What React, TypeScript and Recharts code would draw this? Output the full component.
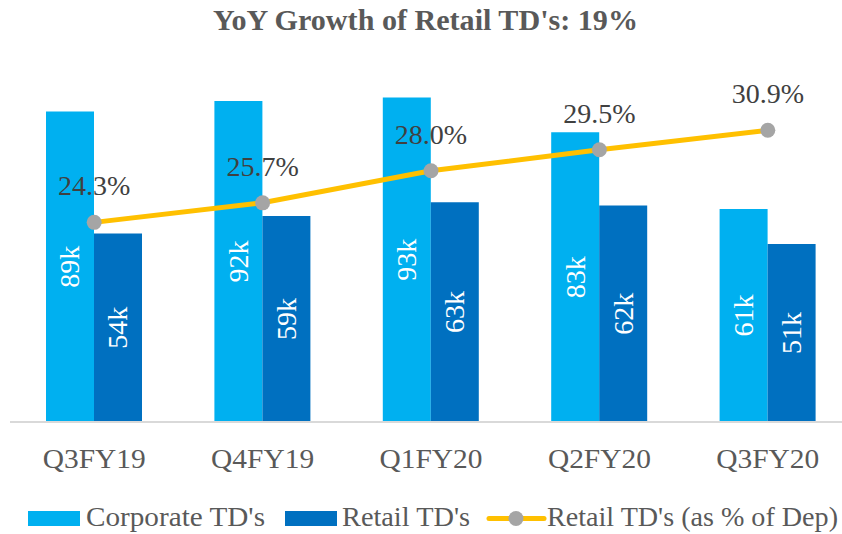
import React from 'react';
import { ComposedChart, Bar, Line, XAxis, YAxis, LabelList, Legend } from 'recharts';

const categories = ['Q3FY19', 'Q4FY19', 'Q1FY20', 'Q2FY20', 'Q3FY20'];
const corporateTDs = [89, 92, 93, 83, 61];
const retailTDs = [54, 59, 63, 62, 51];
const retailPctOfDep = [24.3, 25.7, 28.0, 29.5, 30.9];

const data = categories.map((c, i) => ({
  cat: c,
  corp: corporateTDs[i],
  retail: retailTDs[i],
  pct: retailPctOfDep[i],
}));

const FONT = '"Liberation Serif", "Times New Roman", serif';
const LIGHT = '#00B0F0';
const DARK = '#0070C0';
const GOLD = '#FFC000';
const GREY_DOT = '#A5A5A5';

const BarLabel = (props: any) => {
  const { x, y, width, height, value } = props;
  const cx = x + width / 2;
  const cy = y + height / 2;
  return (
    <text
      x={cx}
      y={cy}
      transform={`rotate(-90 ${cx} ${cy})`}
      textAnchor="middle"
      dominantBaseline="central"
      fill="#ffffff"
      fontFamily={FONT}
      fontSize={28}
    >
      {`${value}k`}
    </text>
  );
};

const LineLabel = (props: any) => {
  const { x, y, value } = props;
  return (
    <text x={x} y={y - 27} textAnchor="middle" fill="#404040" fontFamily={FONT} fontSize={28}>
      {`${Number(value).toFixed(1)}%`}
    </text>
  );
};

const Tick = (props: any) => {
  const { x, y, payload } = props;
  return (
    <text
      x={x}
      y={y + 46}
      textAnchor="middle"
      fill="#595959"
      fontFamily={FONT}
      fontSize={27}
      textLength={103}
      lengthAdjust="spacingAndGlyphs"
    >
      {payload.value}
    </text>
  );
};

const LegendContent = () => (
  <svg width={842} height={35} style={{ display: 'block', overflow: 'visible' }}>
    <rect x={28} y={12} width={52} height={15} fill={LIGHT} />
    <text x={86} y={26.5} fill="#595959" fontFamily={FONT} fontSize={27} textLength={179} lengthAdjust="spacingAndGlyphs">
      Corporate TD's
    </text>
    <rect x={285} y={12} width={52} height={15} fill={DARK} />
    <text x={342} y={26.5} fill="#595959" fontFamily={FONT} fontSize={27} textLength={128} lengthAdjust="spacingAndGlyphs">
      Retail TD's
    </text>
    <line x1={489} y1={19.5} x2={544} y2={19.5} stroke={GOLD} strokeWidth={5} strokeLinecap="round" />
    <circle cx={516} cy={19.5} r={7.5} fill={GREY_DOT} />
    <text x={547} y={26.5} fill="#595959" fontFamily={FONT} fontSize={27} textLength={291} lengthAdjust="spacingAndGlyphs">
      Retail TD's (as % of Dep)
    </text>
  </svg>
);

export default function App() {
  return (
    <div
      style={{
        position: 'fixed',
        left: 0,
        top: 0,
        width: 842,
        height: 534,
        overflow: 'hidden',
        background: '#ffffff',
      }}
    >
      <ComposedChart
        width={862}
        height={534}
        data={data}
        margin={{ top: 73, right: 10, left: 10, bottom: 0 }}
        barSize={48}
        barGap={0}
      >
        <XAxis
          dataKey="cat"
          height={77}
          tickLine={false}
          tickSize={0}
          tickMargin={0}
          axisLine={{ stroke: '#D9D9D9', strokeWidth: 2 }}
          tick={<Tick />}
          interval={0}
        />
        <YAxis yAxisId="left" hide domain={[0, 100]} />
        <YAxis yAxisId="right" orientation="right" hide domain={[10, 35]} />
        <Bar yAxisId="left" dataKey="corp" name="Corporate TD's" fill={LIGHT} isAnimationActive={false}>
          <LabelList dataKey="corp" content={<BarLabel />} />
        </Bar>
        <Bar yAxisId="left" dataKey="retail" name="Retail TD's" fill={DARK} isAnimationActive={false}>
          <LabelList dataKey="retail" content={<BarLabel />} />
        </Bar>
        <Line
          yAxisId="right"
          dataKey="pct"
          name="Retail TD's (as % of Dep)"
          type="linear"
          stroke={GOLD}
          strokeWidth={5}
          dot={{ r: 7.5, fill: GREY_DOT, stroke: 'none' }}
          activeDot={false}
          isAnimationActive={false}
        >
          <LabelList dataKey="pct" content={<LineLabel />} />
        </Line>
        <Legend
          verticalAlign="bottom"
          content={<LegendContent />}
          wrapperStyle={{ left: 0, width: 842, height: 35 }}
        />
      </ComposedChart>
      <svg
        width={842}
        height={60}
        style={{ position: 'absolute', left: 0, top: 0, pointerEvents: 'none' }}
      >
        <text
          x={425.5}
          y={30}
          textAnchor="middle"
          fill="#595959"
          fontFamily={FONT}
          fontWeight="bold"
          fontSize={30}
          textLength={425}
          lengthAdjust="spacingAndGlyphs"
        >
          YoY Growth of Retail TD's: 19%
        </text>
      </svg>
    </div>
  );
}
